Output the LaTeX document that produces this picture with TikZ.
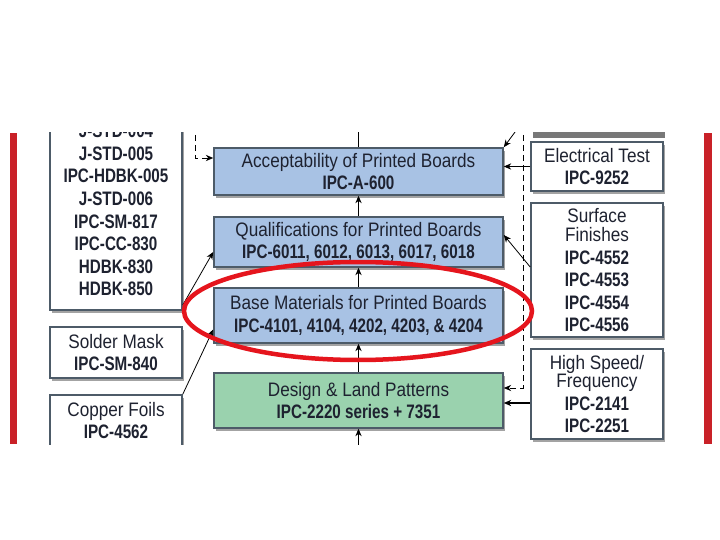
\documentclass[tikz,border=0pt]{standalone}
\usepackage{fontspec}
\setmainfont{Liberation Sans}[FakeStretch=0.88,BoldFeatures={FakeStretch=0.78}]
\usetikzlibrary{arrows.meta,positioning,shadows}
\definecolor{frame}{HTML}{4D5B68}
\definecolor{ink}{HTML}{1E2230}
\definecolor{boardblue}{HTML}{A8C2E4}
\definecolor{padgreen}{HTML}{9AD2AE}
\definecolor{edgered}{HTML}{C92128}
\definecolor{ringred}{HTML}{E5151D}
\begin{document}
\begin{tikzpicture}[x=1pt,y=-1pt,
  stdbox/.style={draw=frame,line width=1.6pt,fill=white,align=center,inner sep=0pt,text=ink,
    font=\fontsize{19.5pt}{22.5pt}\selectfont,minimum width=132pt,
    drop shadow={shadow xshift=2pt,shadow yshift=-3pt,fill=black!55,opacity=0.65}},
  boldbox/.style={stdbox,font=\fontsize{19.5pt}{22.6pt}\selectfont\bfseries},
  stepbox/.style={stdbox,fill=boardblue,minimum width=289pt},
  arr/.style={-{Stealth[length=2.6mm,width=2.2mm]},line width=1.1pt,black},
  thinarr/.style={-{Stealth[length=2.6mm,width=2.2mm]},line width=0.8pt,black},
  dasharr/.style={-{Stealth[length=2.6mm,width=2.2mm]},line width=0.9pt,black,dash pattern=on 6pt off 4pt},
  ring/.style={draw=ringred,line width=4.5pt}]
\fill[white] (0,0) rectangle (720,540);
\useasboundingbox (0,0) rectangle (720,540);
\begin{scope}
\clip (0,133) rectangle (720,444);
\fill[edgered] (10,133) rectangle (17,444);
\fill[edgered] (704,133) rectangle (712,444);
% left column
\node[boldbox,minimum height=200pt] (stds) at (116,210) {J-STD-004\\J-STD-005\\IPC-HDBK-005\\J-STD-006\\IPC-SM-817\\IPC-CC-830\\HDBK-830\\HDBK-850};
\node[stdbox,minimum height=51pt] (mask) at (116,352.5) {Solder Mask\\\textbf{IPC-SM-840}};
\node[stdbox,minimum height=51pt] (foil) at (116,420.5) {Copper Foils\\\textbf{IPC-4562}};
% centre column
\node[stepbox,minimum height=47pt] (accept) at (358.5,171.5) {Acceptability of Printed Boards\\\textbf{IPC-A-600}};
\node[stepbox,minimum height=50pt] (qual) at (358.5,242) {Qualifications for Printed Boards\\\textbf{IPC-6011, 6012, 6013, 6017, 6018}};
\node[stepbox,minimum height=55pt] (base) at (358.5,315.5) {Base Materials for Printed Boards\\\textbf{IPC-4101, 4104, 4202, 4203, \& 4204}};
\node[stepbox,fill=padgreen,minimum height=55pt] (design) at (358.5,400.5) {Design \& Land Patterns\\\textbf{IPC-2220 series + 7351}};
% right column
\fill[black!70,opacity=0.75] (533,131) rectangle (665,138);
\node[stdbox,minimum height=49pt] (etest) at (597,166.5) {Electrical Test\\\textbf{IPC-9252}};
\node[stdbox,minimum height=134pt] (finish) at (597,270) {Surface\\[-3pt]Finishes\\\textbf{IPC-4552}\\\textbf{IPC-4553}\\\textbf{IPC-4554}\\\textbf{IPC-4556}};
\node[stdbox,minimum height=90pt] (speed) at (597,394) {High Speed/\\[-4pt]Frequency\\\textbf{IPC-2141}\\\textbf{IPC-2251}};
% connectors
\coordinate (topout) at (358.5,125);
\coordinate (botin) at (358.5,452);
\coordinate (ldash) at (195,125);
\coordinate (rdash) at (523,125);
\coordinate (rtop) at (518,128);
\coordinate (hsout) at ([yshift=-9pt]speed.west);
\draw[line width=1.1pt] (accept.north) -- (topout);
\draw[arr] (qual) -- (accept);
\draw[arr] (base) -- (qual);
\draw[arr] (design) -- (base);
\draw[arr] (botin) -- (design.south);
\draw[dasharr] (ldash) |- ([yshift=13.5pt]accept.west);
\draw[dasharr] (rdash) |- ([yshift=12.5pt]design.east);
\draw[thinarr] ([yshift=-95pt]stds.east) -- ([yshift=-10pt]qual.west);
\draw[thinarr] (foil.north east) -- ([yshift=-14pt]base.west);
\draw[arr] (etest.west) -- (etest.west -| accept.east);
\draw[thinarr] ([yshift=3pt]finish.west) -- ([yshift=7pt]qual.east);
\draw[arr] (hsout) -- (hsout -| design.east);
\draw[thinarr] (rtop) -- (accept.north east);
\end{scope}
\draw[ring] (358,311) ellipse [x radius=174, y radius=49];
\end{tikzpicture}
\end{document}
